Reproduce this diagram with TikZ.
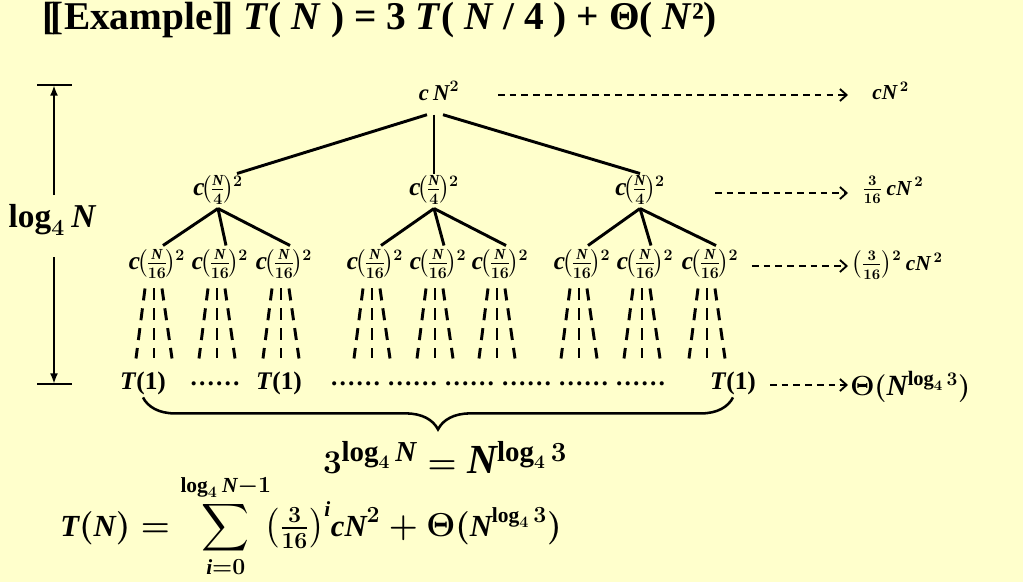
\documentclass[tikz,border=0pt]{standalone}
\usepackage{amsmath}
\usepackage{fontspec}
\setmainfont{Liberation Serif}
\usetikzlibrary{arrows.meta,decorations.pathreplacing,calc}
\definecolor{slidebg}{HTML}{FFFFCC}
\DeclareMathSizes{19}{19}{11.5}{8}
\newcommand\Nv{\mathit{N}}
\newcommand\cv{\mathit{c}}
\newcommand\Tv{\mathit{T}}
\newcommand\iv{\mathit{i}}
\newcommand\fsz[1]{\fontsize{#1}{#1}\selectfont\bfseries\boldmath}
\newcommand\lowtwo[1]{\raisebox{-#1}{$\scriptstyle 2$}}
\newcommand\cost[1]{$\cv\mkern-2mu\bigl(\mkern-1mu\frac{\Nv}{#1}\mkern-1mu\bigr)^{\mkern-1mu\lowtwo{3.5pt}}$}
\tikzset{treenode/.style={inner sep=3pt, font=\fsz{19}}}
\tikzset{leafnode/.style={inner sep=2pt, font=\fsz{19}}}
\tikzset{sumnode/.style={inner sep=0pt, anchor=west, font=\fsz{16}}}
\tikzset{treeedge/.style={line width=2.2pt}}
\tikzset{fanline/.style={line width=2.2pt, dash pattern=on 9pt off 6pt}}
\tikzset{levelarrow/.style={line width=1.4pt, dash pattern=on 5pt off 3.8pt,
  -{Straight Barb[length=5pt,width=9pt,line width=1.4pt]}}}

\begin{document}
\begin{tikzpicture}[x=0.75pt,y=-0.75pt]

\fill[slidebg] (0,0) rectangle (1023,582);
\useasboundingbox (0,0) rectangle (1023,582);

% title
\node[font=\fsz{29.5}] (title) at (380,20)
  {[\kern-.13em[Example]\kern-.13em] \textit{T}( \textit{N} ) = 3 \textit{T}( \textit{N} / 4 ) + Θ( \textit{N}²)};

% nodes
\node[treenode, font=\fsz{17}] (root) at (439,91) {$\cv\,\Nv^2$};
\node[treenode] (a) at (218,190) {\cost{4}};
\node[treenode] (b) at (434,190) {\cost{4}};
\node[treenode] (c) at (640,190) {\cost{4}};
\foreach \n/\x in {a1/157,a2/220,a3/284,b1/375,b2/438,b3/500,c1/582,c2/645,c3/710}
  \node[treenode] (\n) at (\x,264) {\cost{16}};

\node[leafnode] (t1) at (143,383) {\textit{T}(1)};
\node[leafnode] (d1) at (215,384) {……};
\node[leafnode] (t2) at (279,383) {\textit{T}(1)};
\node[leafnode] (d2) at (498,384) {…… …… …… …… …… ……};
\node[leafnode] (t3) at (733,383) {\textit{T}(1)};

% level sums
\node[sumnode] (s0) at (872,91) {$\cv\Nv^{\,2}$};
\node[sumnode] (s1) at (862,190) {$\frac{3}{16}\,\cv\Nv^{\,2}$};
\node[sumnode] (s2) at (851,265) {$\bigl(\frac{3}{16}\bigr)^{\lowtwo{3pt}}\,\cv\Nv^{\,2}$};
\node[sumnode, font=\fsz{22}] (s3) at (850,387) {$\Theta(\Nv^{\log_4 3})$};

% depth
\node[font=\fsz{25}] (depth) at (52,220) {$\log_4 \Nv$};
\coordinate (htop) at (54,85);
\coordinate (hbot) at (54,384);
\coordinate (dtop) at (54,195);
\coordinate (dbot) at (54,257);

% results
\node[font=\fsz{31}] (powers) at (445,457) {$3^{\log_4\Nv} = \Nv^{\log_4 3}$};
\node[font=\fsz{23}] (total) at (311,526)
  {$\Tv(\Nv) = \displaystyle\sum_{\iv=0}^{\log_4\Nv-1}\! \bigl(\tfrac{3}{16}\bigr)^{\iv}\cv\Nv^2 + \Theta(\Nv^{\log_4 3})$};

% edges
\draw[treeedge] ($(root.south)+(-12,10)$) -- ($(a.north)+(19,2)$);
\draw[treeedge] ($(root.south)+(-5,10)$) -- ($(b.north)+(0,2)$);
\draw[treeedge] ($(root.south)+(4,10)$) -- ($(c.north)+(0,2)$);
\foreach \p in {a,b,c}
  \foreach \q in {1,2,3}
    \draw[treeedge] (\p.south) -- ($(\p\q.north)+(6,0)$);

\foreach \n in {a1,a2,a3,b1,b2,b3,c1,c2,c3}
  \foreach \dx/\sx in {-12/-9,-3/0,5/10}
    \draw[fanline] ($(\n.south)+(\dx,6)$) -- ++(\sx,70);

\draw[decorate, decoration={brace, amplitude=24pt}, line width=1.9pt] (t3.south) -- (t1.south);

% level arrows
\coordinate (r0) at (498,95);
\coordinate (r1) at (715,193);
\coordinate (r2) at (752,266);
\coordinate (r3) at (770,385);
\foreach \i in {0,1,2,3}
  \draw[levelarrow] (r\i) -- (848,0 |- r\i);

% height arrow
\draw[line width=2.2pt] (htop) +(-17,0) -- +(18,0);
\draw[line width=2.2pt] (hbot) +(-17,0) -- +(18,0);
\draw[line width=1.9pt, -{Latex[length=8pt,width=6pt]}] (dtop) -- (htop);
\draw[line width=1.9pt, -{Latex[length=8pt,width=6pt]}] (dbot) -- (hbot);

\end{tikzpicture}
\end{document}
